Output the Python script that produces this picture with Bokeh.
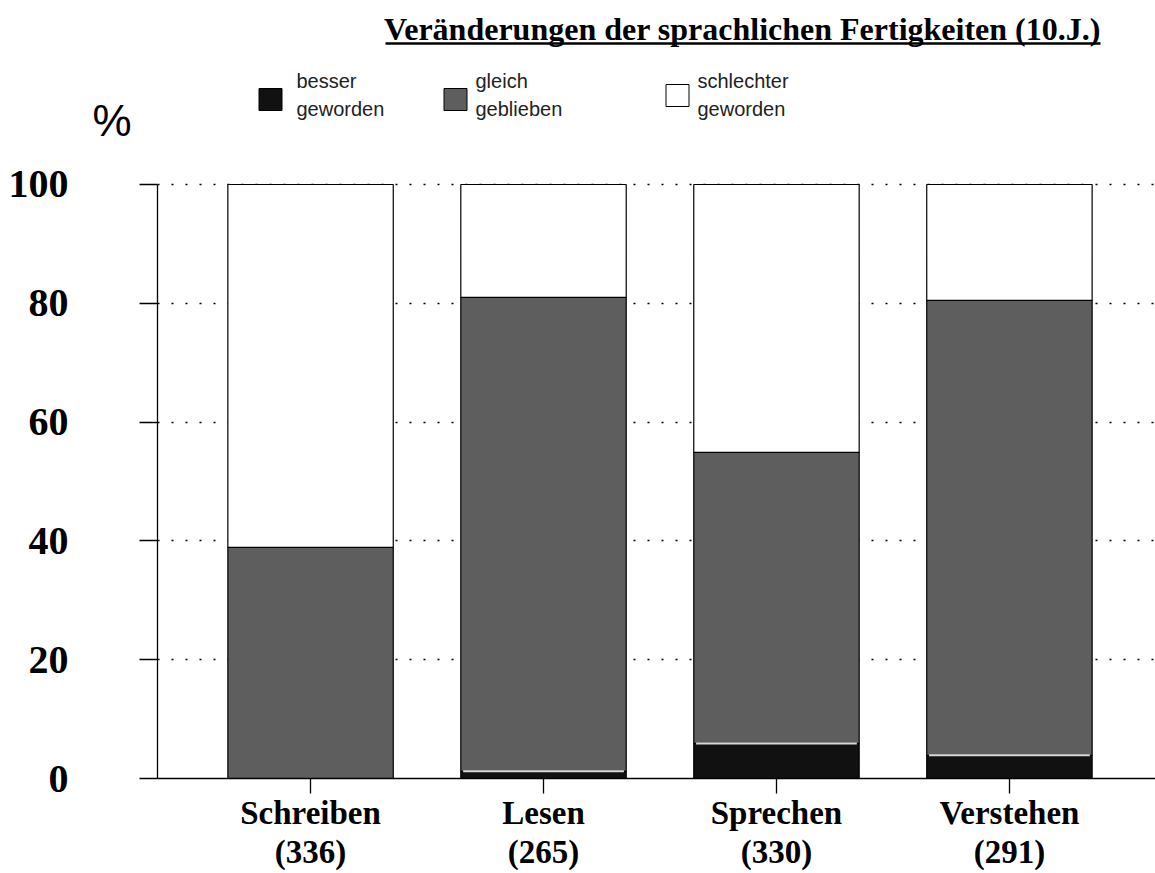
from bokeh.plotting import figure
from bokeh.layouts import column
from bokeh.models import FixedTicker, Range1d, ColumnDataSource
from bokeh.core.properties import value
from bokeh.embed import file_html
from bokeh.resources import INLINE

# ---- data ----
categories = ["Schreiben", "Lesen", "Sprechen", "Verstehen"]
counts = ["(336)", "(265)", "(330)", "(291)"]
besser = [0.0, 1.2, 5.9, 3.9]
gleich = [38.9, 79.8, 49.0, 76.6]
schlechter = [61.1, 19.0, 45.1, 19.5]
series = ["besser", "gleich", "schlechter"]
legend_line1 = ["besser", "gleich", "schlechter"]
legend_line2 = ["geworden", "geblieben", "geworden"]
y_ticks = [0, 20, 40, 60, 80, 100]
title_text = "Veränderungen der sprachlichen Fertigkeiten (10.J.)"

colors = ["#111111", "#5e5e5e", "#ffffff"]
SERIF = "Liberation Serif"
SANS = "Liberation Sans"

W, H_TOP, H_MAIN = 1155, 160, 713
LEFT = 157

# ---------------- header figure (title, legend, % sign) ----------------
top = figure(width=W, height=H_TOP, output_backend="svg", toolbar_location=None,
             x_range=Range1d(LEFT, W), y_range=Range1d(H_TOP, 0),
             min_border_left=LEFT, min_border_right=0,
             min_border_top=0, min_border_bottom=0)
top.xaxis.visible = False
top.grid.visible = False
top.outline_line_color = None

# the "%" unit sign lives in the header's left panel (as a single-tick axis label)
ta = top.yaxis[0]
ta.ticker = FixedTicker(ticks=[120])
ta.major_label_overrides = {120: "%"}
ta.axis_line_color = None
ta.major_tick_line_color = None
ta.minor_tick_line_color = None
ta.major_tick_out = 0
ta.major_tick_in = 0
ta.major_label_standoff = 26
ta.major_label_text_font = SANS
ta.major_label_text_font_size = "44px"
ta.major_label_text_color = "black"

top.text(x=[742], y=[28], text=[title_text], text_font=value(SERIF),
         text_font_style="bold", text_font_size="32px", text_align="center",
         text_baseline="middle", text_color="black")
top.segment(x0=[385], y0=[43], x1=[1100], y1=[43], line_color="black", line_width=2.5)

leg_box_x = [270, 455, 677]
leg_box_y = [99, 99, 95]
leg_text_x = [296, 475, 697]
top.rect(x=leg_box_x, y=leg_box_y, width=23, height=22, fill_color=colors,
         line_color="black", line_width=1)
top.text(x=leg_text_x, y=[80] * 3, text=legend_line1, text_font=value(SANS),
         text_font_size="20px", text_align="left", text_baseline="middle",
         text_color="#222222")
top.text(x=leg_text_x, y=[108] * 3, text=legend_line2, text_font=value(SANS),
         text_font_size="20px", text_align="left", text_baseline="middle",
         text_color="#222222")

# ---------------- main chart ----------------
xs = list(range(len(categories)))
src = ColumnDataSource(dict(x=xs, besser=besser, gleich=gleich, schlechter=schlechter))

p = figure(width=W, height=H_MAIN, output_backend="svg", toolbar_location=None,
           x_range=Range1d(-0.657, 3.627), y_range=Range1d(0, 104.04),
           min_border_left=LEFT, min_border_right=0, min_border_top=0, min_border_bottom=95)
p.outline_line_color = None

bw = 0.71
p.vbar_stack(series, x="x", width=bw, source=src, fill_color=colors,
             line_color="black", line_width=1.2)

# light stripe on top of the black segment
bx0 = [x - bw / 2 + 0.01 for x, b in zip(xs, besser) if b > 0]
bx1 = [x + bw / 2 - 0.01 for x, b in zip(xs, besser) if b > 0]
by = [b for b in besser if b > 0]
p.segment(x0=bx0, y0=by, x1=bx1, y1=by, line_color="#d9d9d9", line_width=2)

# grid
p.xgrid.visible = False
p.ygrid.ticker = FixedTicker(ticks=[t for t in y_ticks if t > 0])
p.ygrid.grid_line_color = "black"
p.ygrid.grid_line_dash = "2 12"
p.ygrid.grid_line_width = 1.5

# y axis
ya = p.yaxis[0]
ya.ticker = FixedTicker(ticks=y_ticks)
ya.bounds = (0, 100)
ya.major_tick_out = 18
ya.major_tick_in = 0
ya.minor_tick_line_color = None
ya.axis_line_width = 1.3
ya.major_tick_line_width = 1.3
ya.major_label_standoff = 71
ya.major_label_text_font = SERIF
ya.major_label_text_font_style = "bold"
ya.major_label_text_font_size = "40px"
ya.major_label_text_color = "black"

# x axis
xa = p.xaxis[0]
xa.ticker = FixedTicker(ticks=xs)
xa.major_label_overrides = {i: f"{c}\n{n}" for i, (c, n) in enumerate(zip(categories, counts))}
xa.major_tick_out = 15
xa.major_tick_in = 0
xa.minor_tick_line_color = None
xa.axis_line_width = 1.3
xa.major_tick_line_width = 1.3
xa.major_label_standoff = 1
xa.major_label_text_font = SERIF
xa.major_label_text_font_style = "bold"
xa.major_label_text_font_size = "33px"
xa.major_label_text_line_height = 1.1
xa.major_label_text_color = "black"

layout = column(top, p, spacing=0)
open("out.html", "w").write(file_html(layout, INLINE))
